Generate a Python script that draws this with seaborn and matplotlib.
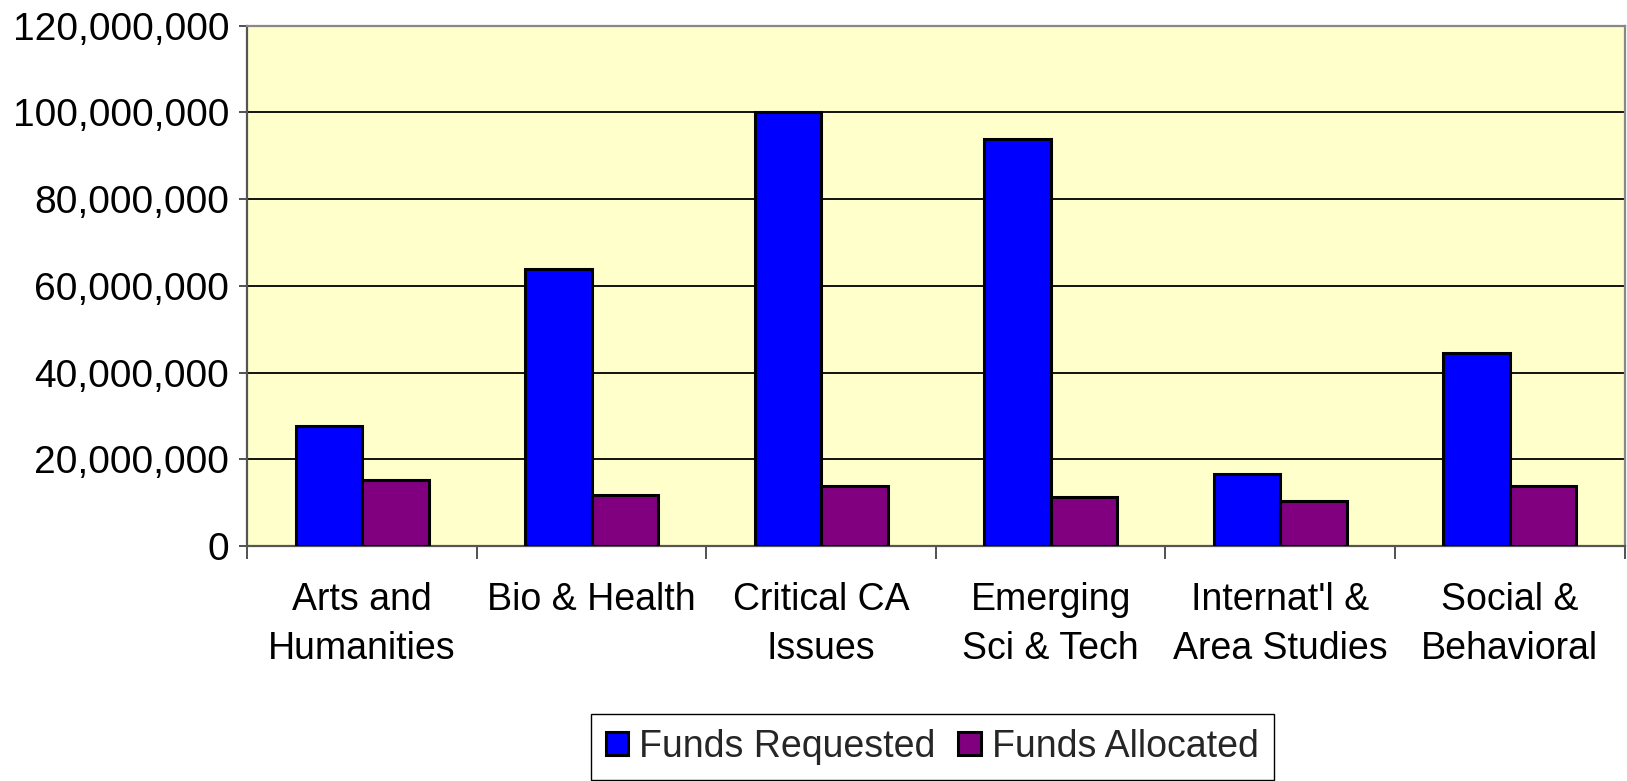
import numpy as np
import pandas as pd
import matplotlib
matplotlib.use('Agg')
import matplotlib.pyplot as plt
from matplotlib.ticker import FuncFormatter, FixedLocator
import seaborn as sns


CATEGORIES = ['Arts and\nHumanities', 'Bio & Health', 'Critical CA\nIssues',
              'Emerging\nSci & Tech', "Internat'l &\nArea Studies", 'Social &\nBehavioral']
FUNDS_REQUESTED = [27_700_000, 63_900_000, 100_000_000, 93_800_000, 16_600_000, 44_400_000]
FUNDS_ALLOCATED = [15_200_000, 11_700_000, 13_800_000, 11_200_000, 10_400_000, 13_900_000]
SERIES = ['Funds Requested', 'Funds Allocated']
COLORS = ['#0000FF', '#800080']
Y_TICKS = [0, 20_000_000, 40_000_000, 60_000_000, 80_000_000, 100_000_000, 120_000_000]


df = pd.DataFrame({
    'category': CATEGORIES * 2,
    'series':   [SERIES[0]] * len(CATEGORIES) + [SERIES[1]] * len(CATEGORIES),
    'value':    FUNDS_REQUESTED + FUNDS_ALLOCATED,
})

sns.set_theme(style='white')
plt.rcParams['font.family'] = ['Liberation Sans', 'DejaVu Sans']

fig = plt.figure(figsize=(16.27, 7.81), dpi=100)
ax = fig.add_axes([0.152, 0.301, 0.8465, 0.666])
ax.set_facecolor('#FFFFCC')

sns.barplot(data=df, x='category', y='value', hue='series', order=CATEGORIES,
            hue_order=SERIES, palette=COLORS, width=0.58, gap=0,
            edgecolor='black', linewidth=2.2, saturation=1, ax=ax, zorder=3)

ax.set_ylim(0, 120_000_000)
ax.set_xlim(-0.5, len(CATEGORIES) - 0.5)
ax.yaxis.set_major_locator(FixedLocator(Y_TICKS))
ax.yaxis.set_major_formatter(FuncFormatter(lambda v, p: f'{int(v):,}'))
ax.grid(axis='y', color='black', linewidth=1.3, zorder=0)
ax.set_axisbelow(True)

ax.set_xlabel('')
ax.set_ylabel('')

# x ticks sit on the category boundaries, labels at the centres
ax.set_xticks(np.arange(len(CATEGORIES)))
ax.set_xticklabels(CATEGORIES, fontsize=27, linespacing=1.45)
ax.set_xticks(np.arange(-0.5, len(CATEGORIES)), minor=True)
ax.tick_params(axis='x', which='major', length=0, pad=26, colors='black')
ax.tick_params(axis='x', which='minor', length=9, width=1.2, color='#333333', direction='out',
               bottom=True)
ax.tick_params(axis='y', labelsize=28, length=6, width=1.2, color='#333333', direction='out',
               pad=7, left=True, colors='black')

for side in ['top', 'right']:
    ax.spines[side].set_color('#888888')
    ax.spines[side].set_linewidth(1.6)
for side in ['left', 'bottom']:
    ax.spines[side].set_color('#555555')
    ax.spines[side].set_linewidth(1.6)

handles, labels = ax.get_legend_handles_labels()
ax.legend(handles, labels, loc='center', bbox_to_anchor=(0.573, 0.044),
          bbox_transform=fig.transFigure, ncol=2, fontsize=27, frameon=True,
          fancybox=False, edgecolor='black', framealpha=1,
          handlelength=0.6, handleheight=0.6, handletextpad=0.3, columnspacing=0.6,
          borderpad=0.4, borderaxespad=0)
ax.get_legend().get_frame().set_linewidth(1.0)

fig.savefig('out.png', dpi=100, facecolor='white')
